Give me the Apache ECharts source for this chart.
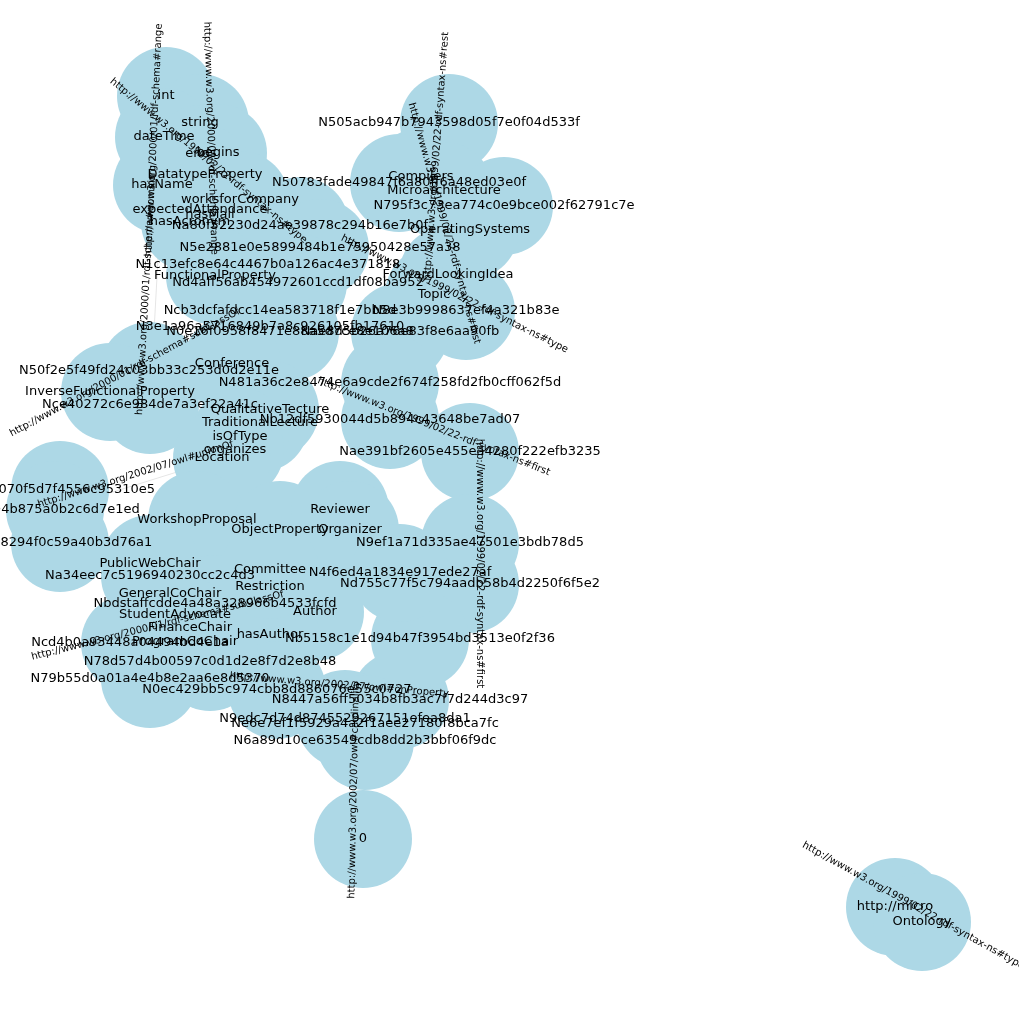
<!DOCTYPE html>
<html>
<head>
<meta charset="utf-8">
<script src="https://cdn.jsdelivr.net/npm/echarts@6/dist/echarts.min.js"></script>
<style>html,body{margin:0;background:#fff}#main{width:1019px;height:1019px}</style>
</head>
<body>
<div id="main"></div>
<script>
// nodes (label, x, y)
var nodeNames=['int','string','dateTime','ends','begins','DatatypeProperty','hasName','worksforCompany','expectedAttendance','hasMail','hasAcronym',
'N505acb947b7943598d05f7e0f04d533f','Compilers','Microarchitecture','N50783fade49847f6a80ff6a48ed03e0f','N795f3c73ea774c0e9bce002f62791c7e','OperatingSystems',
'ForwardLookingIdea','Topic','N8e3b9998637ef4a321b83e','Na80f52230d24ae39878c294b16e7b0f','N5e2881e0e5899484b1e75950428e57a38','N1c13efc8e64c4467b0a126ac4e371818',
'FunctionalProperty','Nd4aff56ab454972601ccd1df08ba952','Ncb3dcfafdcc14ea583718f1e7bb5d','N3e1a96a5716849b7a8c926105fb17610','N0e16f0958f8471e88a5d7ce8e106a8','Nae8d5b26a76e83f8e6aa90fb',
'Conference','N50f2e5f49fd24c03bb33c253d0d2e11e','InverseFunctionalProperty','Nce40272c6e984de7a3ef22a41c','N481a36c2e8474e6a9cde2f674f258fd2fb0cff062f5d','QualitativeTecture',
'Nb12df5930044d5b894c43648be7ad07','TraditionalLecture','isOfType','Nae391bf2605e455ea4280f222efb3235','organizes','Location','Nc26070f5d7f4556c95310e5','Nf004b875a0b2c6d7e1ed',
'WorkshopProposal','ObjectProperty','Reviewer','Organizer','e0d08294f0c59a40b3d76a1','N9ef1a71d335ae47501e3bdb78d5','Restriction','Na34eec7c5196940230cc2c4d3','Nd755c77f5c794aadb58b4d2250f6f5e2',
'GeneralCoChair','Nbdstaffcdde4a48a328966b4533fcfd','StudentAdvocate','Author','hasAuthor','FinanceChair','ProgramCoChair','Ncd4b0a93448a04494bd4e1a','N0ec429bb5c974cbb8d886076e55c0727',
'N8447a56ff5034b8fb3ac7f7d244d3c97','N9edc7d74d8745529267151efea8da1','Ne6e7ef1f5929a4a2f1aee27180f8bca7fc','N6a89d10ce63549cdb8dd2b3bbf06f9dc','PublicWebChair','Committee','N78d57d4b00597c0d1d2e8f7d2e8b48',
'N79b55d0a01a4e4b8e2aa6e8d5370','Nb5158c1e1d94b47f3954bd3513e0f2f36','N4f6ed4a1834e917ede27af','0','http://micro','Ontology'];
var nodeX=[166,200,164,201,218,205,162,240,200,210,190,
449,421,444,399,504,470,
448,434,466,300,320,268,
215,298,280,270,290,400,
232,149,110,150,390,270,
390,260,240,470,235,222,60,55,
197,280,340,350,60,470,270,150,470,
170,215,175,315,270,190,185,130,277,
400,345,365,365,150,270,210,
150,420,400,363,895,922];
var nodeY=[96,123,137,154,153,175,185,200,210,215,222,
123,177,191,183,206,230,
275,295,311,226,248,265,
276,283,311,327,332,332,
364,371,392,405,383,410,
420,423,437,452,450,458,490,510,
520,530,510,530,543,543,587,576,584,
594,604,615,612,635,628,642,643,690,
700,719,724,741,564,570,662,
679,639,573,839,907,922];
// edges (source, target, label)
var edgeSource=['int','string','dateTime','hasName','N505acb947b7943598d05f7e0f04d533f','Compilers','Topic','InverseFunctionalProperty','Nf004b875a0b2c6d7e1ed','Nae391bf2605e455ea4280f222efb3235','N9ef1a71d335ae47501e3bdb78d5','Ncd4b0a93448a04494bd4e1a','N0ec429bb5c974cbb8d886076e55c0727','0','http://micro'];
var edgeTarget=['hasName','ends','worksforCompany','Nce40272c6e984de7a3ef22a41c','Microarchitecture','ForwardLookingIdea','N8e3b9998637ef4a321b83e','N50f2e5f49fd24c03bb33c253d0d2e11e','Location','Nb12df5930044d5b894c43648be7ad07','Nd755c77f5c794aadb58b4d2250f6f5e2','FinanceChair','N8447a56ff5034b8fb3ac7f7d244d3c97','N6a89d10ce63549cdb8dd2b3bbf06f9dc','Ontology'];
var edgeLabels=['http://www.w3.org/2000/01/rdf-schema#range','http://www.w3.org/2000/01/rdf-schema#range','http://www.w3.org/1999/02/22-rdf-syntax-ns#type','http://www.w3.org/2000/01/rdf-schema#domain','http://www.w3.org/1999/02/22-rdf-syntax-ns#rest','http://www.w3.org/1999/02/22-rdf-syntax-ns#first','http://www.w3.org/1999/02/22-rdf-syntax-ns#type','http://www.w3.org/2000/01/rdf-schema#subClassOf','http://www.w3.org/2002/07/owl#unionOf','http://www.w3.org/1999/02/22-rdf-syntax-ns#first','http://www.w3.org/1999/02/22-rdf-syntax-ns#first','http://www.w3.org/2000/01/rdf-schema#subClassOf','http://www.w3.org/2002/07/owl#onProperty','http://www.w3.org/2002/07/owl#cardinality','http://www.w3.org/1999/02/22-rdf-syntax-ns#type'];

var nodes=[];
for(var i=0;i<nodeNames.length;i++){
    nodes.push({name:nodeNames[i],x:nodeX[i],y:nodeY[i]});
}
var links=[];
for(var j=0;j<edgeSource.length;j++){
    links.push({source:edgeSource[j],target:edgeTarget[j],label:{formatter:edgeLabels[j]}});
}
var myChart=echarts.init(document.getElementById('main'));
var option={
    backgroundColor:'#fff',
    animation:false,
    series:[{
        type:'graph',
        layout:'none',
        left:55,top:96,right:97,bottom:97,
        symbolSize:98,
        z:2,
        itemStyle:{color:'#add8e6'},
        label:{show:true,position:'inside',color:'#000',fontSize:13,fontFamily:'DejaVu Sans'},
        edgeLabel:{show:true,position:'middle',fontSize:10,color:'#000',opacity:1,fontFamily:'DejaVu Sans'},
        lineStyle:{color:'#000',width:1,opacity:0.1},
        data:nodes,
        links:links
    }]
};
myChart.setOption(option);
</script>
</body>
</html>
